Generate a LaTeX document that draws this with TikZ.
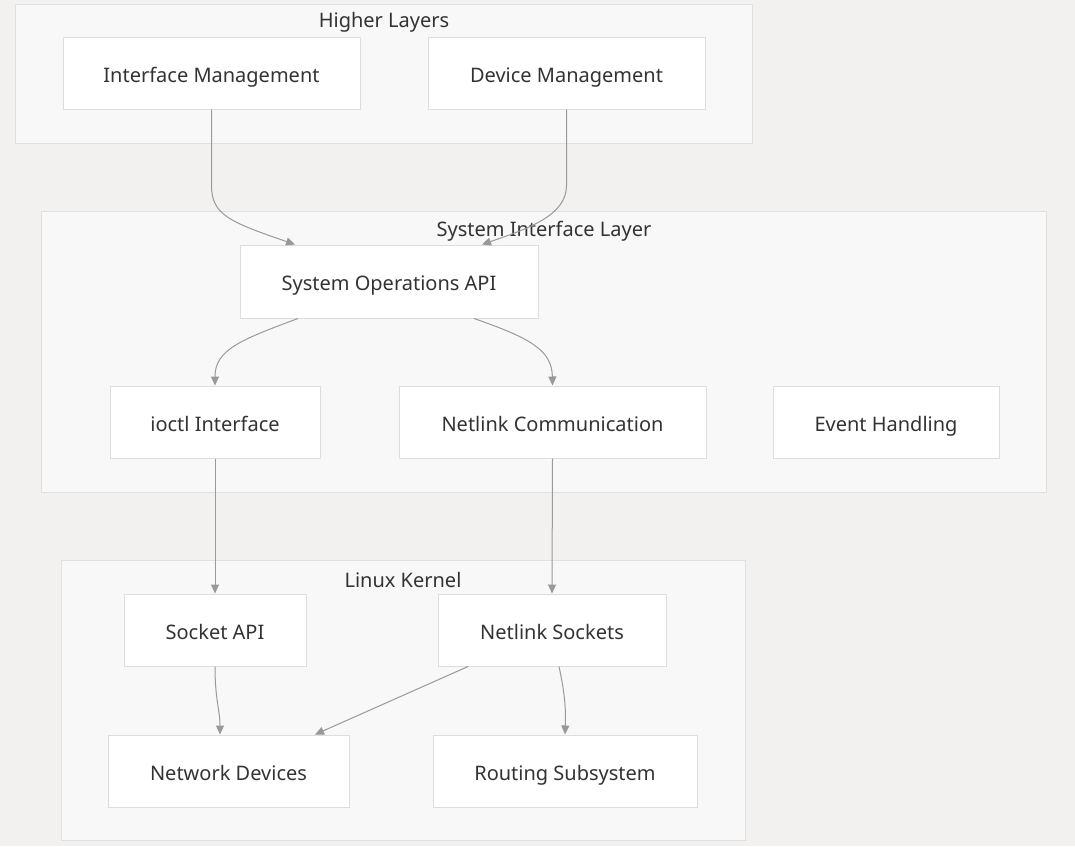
\documentclass[tikz,border=0pt]{standalone}
\usepackage{fontspec}
\setmainfont{Noto Sans}
\usetikzlibrary{arrows.meta}
\definecolor{pagebg}{HTML}{F2F1EF}
\definecolor{clfill}{HTML}{F8F8F8}
\definecolor{clline}{HTML}{E0E0E0}
\definecolor{ndline}{HTML}{DDDDDD}
\definecolor{edge}{HTML}{999999}
\definecolor{txt}{HTML}{333333}
\tikzset{
  cluster/.style={draw=clline, fill=clfill, line width=1pt},
  box/.style={draw=ndline, fill=white, line width=1pt, text=txt, font=\fontsize{20}{24}\selectfont, text height=18pt, text depth=0pt},
  cltitle/.style={text=txt, font=\fontsize{20}{24}\selectfont, inner sep=0pt},
  conn/.style={draw=edge, line width=1pt, -{Triangle[length=9pt,width=8pt]}},
}
\begin{document}
\begin{tikzpicture}[x=1pt,y=-1pt]
\path[fill=pagebg] (0,0) rectangle (1075,846);
\useasboundingbox (0,0) rectangle (1075,846);
% clusters
\draw[cluster] (15,4) rectangle (752,143);
\node[cltitle] (t1) at (384,22) {Higher Layers};
\draw[cluster] (41,211) rectangle (1046,492);
\node[cltitle] (t2) at (544,231) {System Interface Layer};
\draw[cluster] (61,560) rectangle (745,840);
\node[cltitle] (t3) at (403,580) {Linux Kernel};
% nodes
\node[box, minimum width=297pt, minimum height=72pt] (im) at (211.5,73) {Interface Management};
\node[box, minimum width=277pt, minimum height=72pt] (dm) at (566.5,73) {Device Management};
\node[box, minimum width=298pt, minimum height=73pt] (soa) at (389,281.5) {System Operations API};
\node[box, minimum width=210pt, minimum height=72pt] (ioctl) at (215,422) {ioctl Interface};
\node[box, minimum width=307pt, minimum height=72pt] (nc) at (552.5,422) {Netlink Communication};
\node[box, minimum width=226pt, minimum height=72pt] (eh) at (886,422) {Event Handling};
\node[box, minimum width=182pt, minimum height=72pt] (sa) at (215,630) {Socket API};
\node[box, minimum width=228pt, minimum height=72pt] (ns) at (552,630) {Netlink Sockets};
\node[box, minimum width=241pt, minimum height=72pt] (nd) at (228.5,771) {Network Devices};
\node[box, minimum width=264pt, minimum height=72pt] (rs) at (565,771) {Routing Subsystem};
% edges
\draw[conn] (im.south) -- ++(0,76) .. controls (211.5,215) and (230,222) .. ([xshift=-94]soa.north);
\draw[conn] (dm.south) -- ++(0,76) .. controls (566.5,215) and (530,228) .. ([xshift=93]soa.north);
\draw[conn] ([xshift=-91]soa.south) .. controls (240,340) and (215,350) .. (ioctl.north);
\draw[conn] ([xshift=85]soa.south) .. controls (530,338) and (552,350) .. (nc.north);
\draw[conn] (ioctl.south) -- (sa.north);
\draw[conn] (nc.south) -- (ns.north);
\draw[conn] (sa.south) .. controls (215,700) and (220,710) .. ([xshift=-8.5]nd.north);
\draw[conn] ([xshift=-84]ns.south) -- ([xshift=86.5]nd.north);
\draw[conn] ([xshift=7]ns.south) .. controls (564,690) and (566,705) .. (rs.north);
\end{tikzpicture}
\end{document}
